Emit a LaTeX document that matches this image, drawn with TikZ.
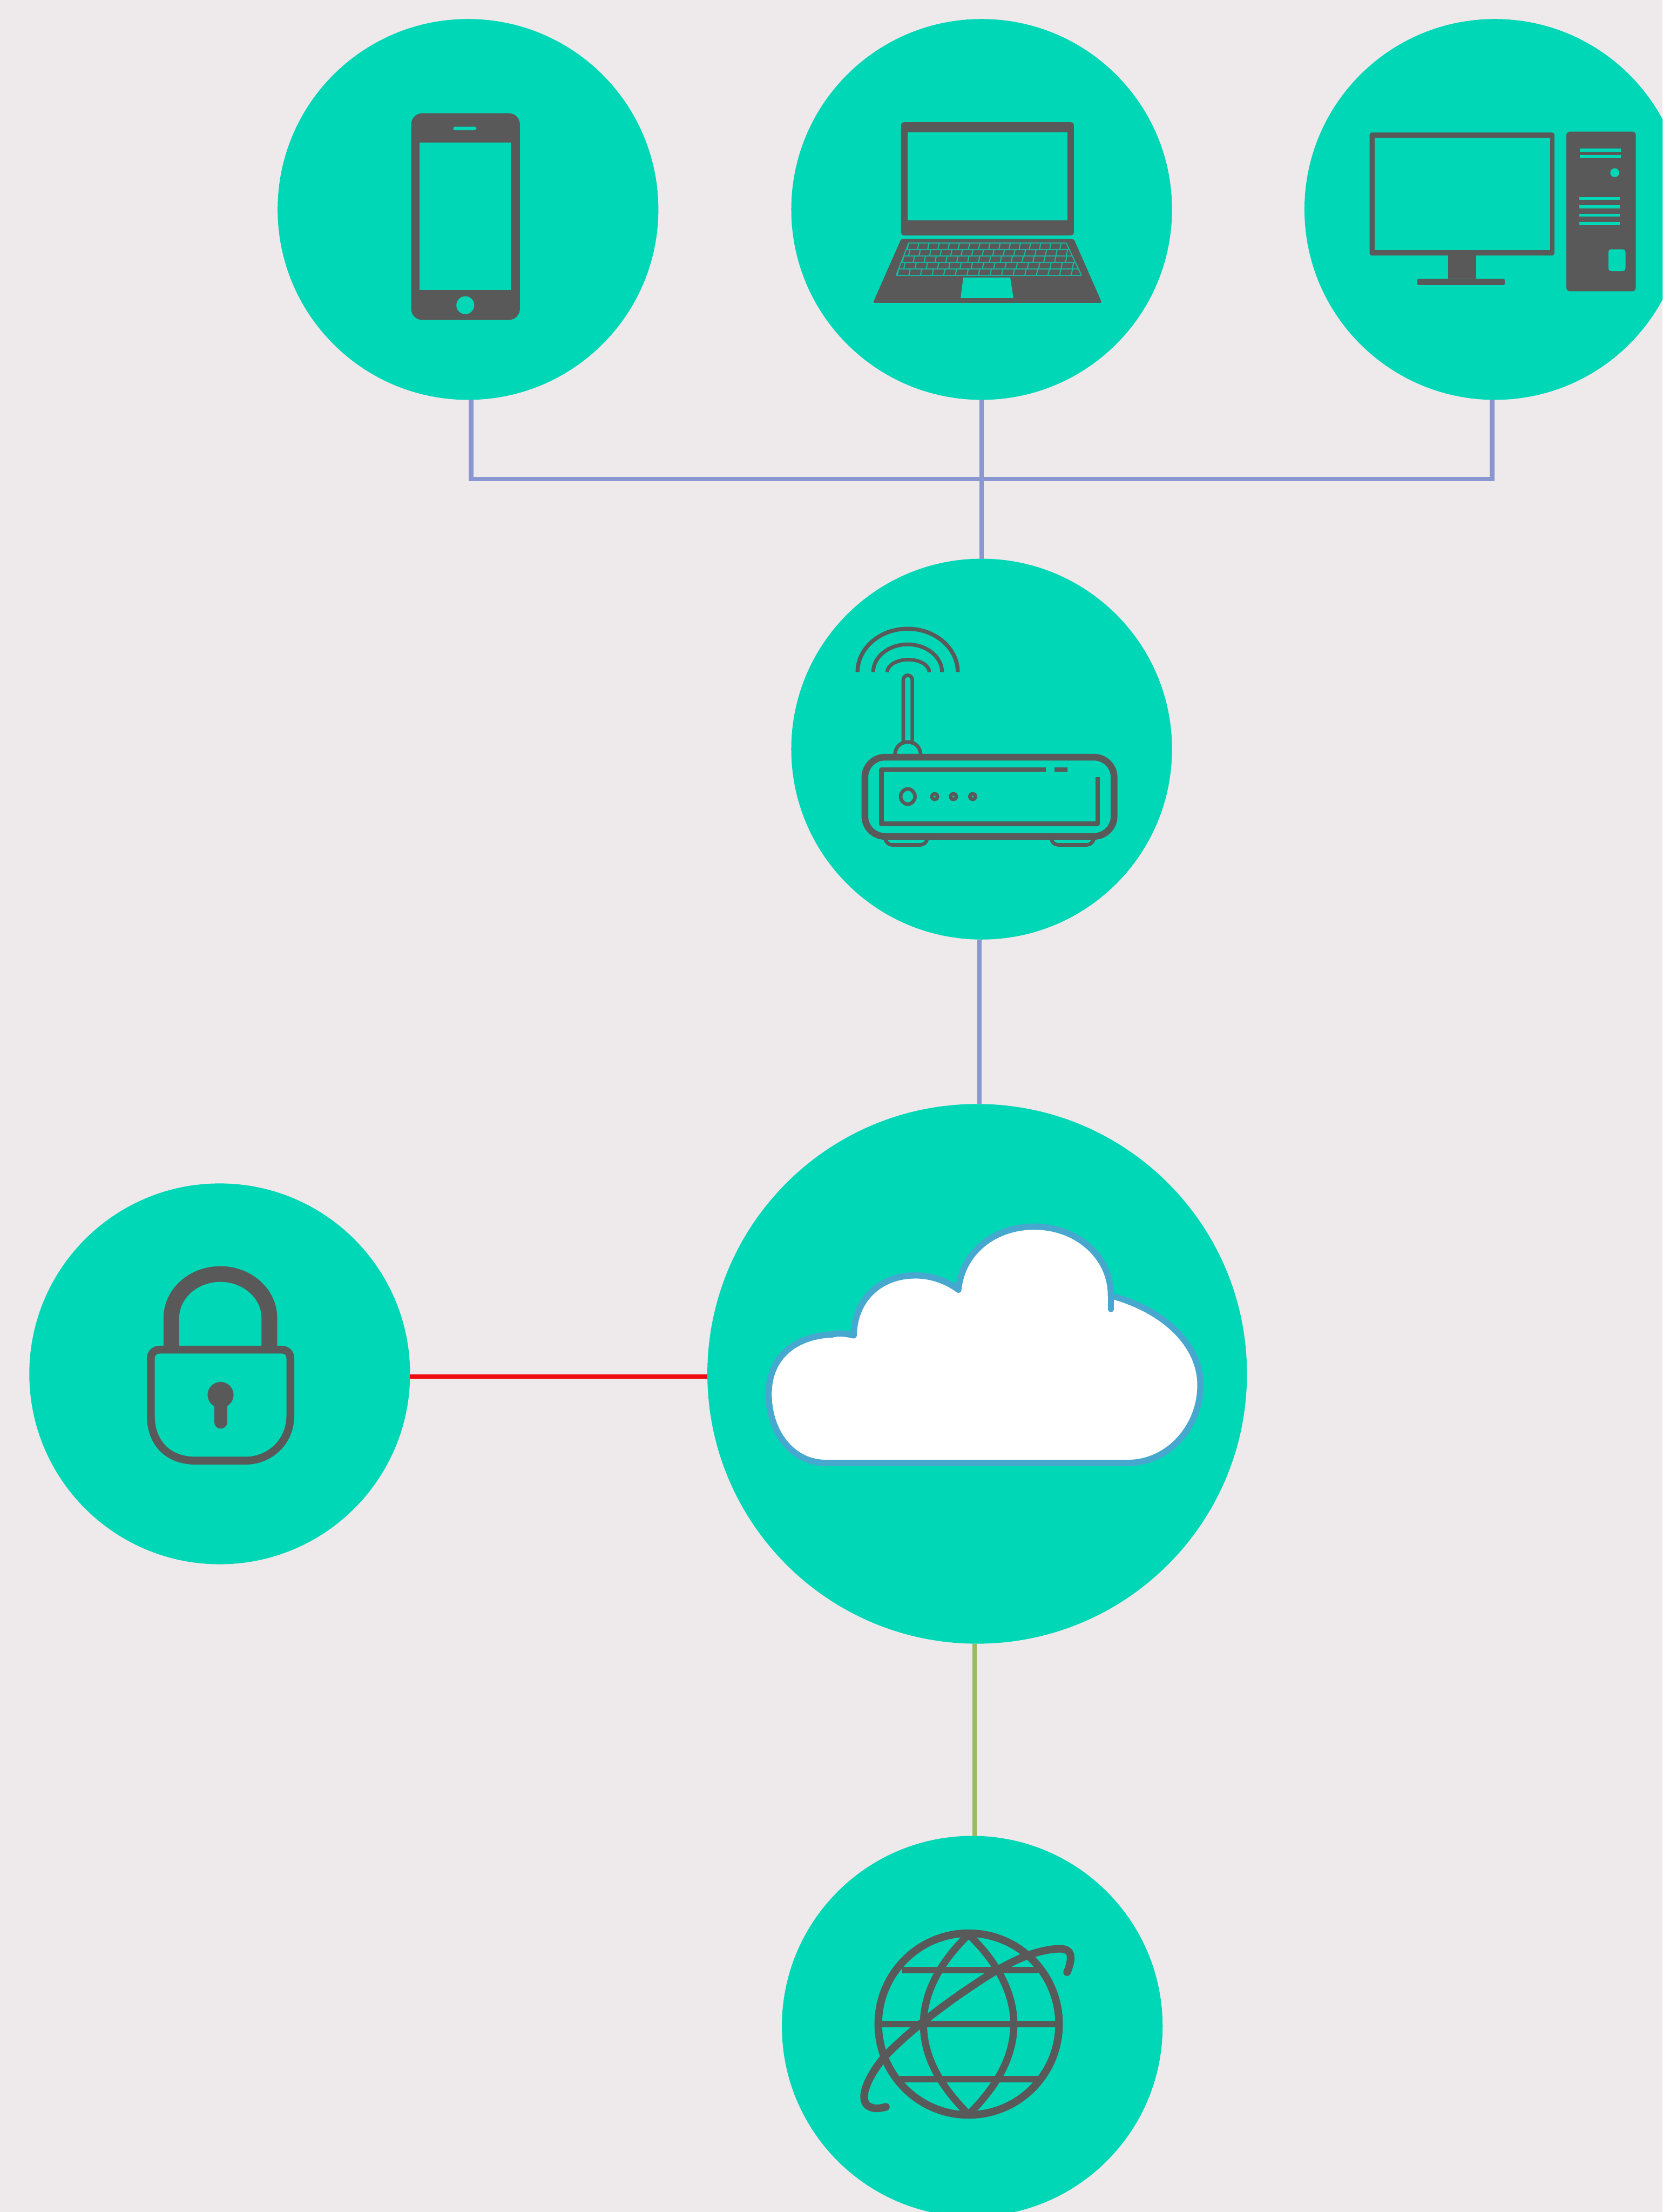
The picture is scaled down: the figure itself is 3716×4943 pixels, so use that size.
\documentclass[tikz,border=0pt]{standalone}
\definecolor{bgc}{HTML}{EEEAEB}
\definecolor{tealc}{HTML}{00D7B6}
\definecolor{grayc}{HTML}{595959}
\definecolor{bluec}{HTML}{8A96CF}
\definecolor{redc}{HTML}{EE0A0E}
\definecolor{greenc}{HTML}{97BC60}
\definecolor{cloudc}{HTML}{47A8CF}
\tikzset{
  disc/.style={circle,fill=tealc,draw=none,inner sep=0pt,outer sep=0pt,minimum size=85.1mm},
  bigdisc/.style={disc,minimum size=120.6mm},
  wire/.style={line width=1mm},
  solidicon/.style={fill=grayc,draw=none},
  hole/.style={fill=tealc,draw=none},
  keyline/.style={draw=tealc!75!grayc,line width=0.25mm},
  outline/.style={draw=grayc,line cap=round,line join=round},
}
\begin{document}
\begin{tikzpicture}[x=0.1mm,y=-0.1mm]
\useasboundingbox (0,0) rectangle (3716,4943);
\clip (0,0) rectangle (3716,4943);
\fill[bgc] (0,0) rectangle (3716,4943);
% discs
\node[disc] (phone) at (1046,468) {};
\node[disc] (laptop) at (2194,468) {};
\node[disc] (desktop) at (3341,468) {};
\node[disc] (router) at (2194,1674) {};
\node[bigdisc] (cloud) at (2184,3070) {};
\node[disc] (lock) at (491,3070) {};
\node[disc] (globe) at (2173,4528) {};
% connectors
\coordinate (busL) at (1053,1070);
\coordinate (busR) at (3335,1070);
\coordinate (rc) at (2189,2280);
\coordinate (cg) at (2178,3900);
\coordinate (lc) at (1250,3076);
\draw[wire,bluec] (busL |- phone.south) -- (busL) -- (busR) -- (busR |- desktop.south);
\draw[wire,bluec] (laptop.south) -- (router.north);
\draw[wire,bluec] (rc |- router.south) -- (rc |- cloud.north);
\draw[wire,redc] (lock.east |- lc) -- (cloud.west |- lc);
\draw[wire,greenc] (cg |- cloud.south) -- (cg |- globe.north);
% phone icon
\fill[solidicon,rounded corners=2.5mm] (919,253) rectangle (1162,715);
\fill[hole] (938,318) rectangle (1142,648);
\fill[hole,rounded corners=0.4mm] (1013,283) rectangle (1065,291);
\fill[hole] (1040,682) circle (20);
% laptop icon
\fill[solidicon,rounded corners=0.6mm] (2014,273) rectangle (2400,526);
\fill[hole] (2028,296) rectangle (2386,492);
\fill[solidicon,rounded corners=0.4mm] (2014,534) -- (2400,534) -- (2463,677) -- (1951,677) -- cycle;
\foreach \r in {0,1,2,3,4,5}{
  \pgfmathsetmacro{\yy}{543+14.4*\r}
  \pgfmathsetmacro{\xa}{2031-5.6*\r}
  \pgfmathsetmacro{\xb}{2383+6.8*\r}
  \draw[keyline] (\xa,\yy) -- (\xb,\yy);
}
\foreach \r in {0,1,2,3,4}{
  \pgfmathsetmacro{\yy}{543+14.4*\r}
  \pgfmathsetmacro{\yz}{\yy+14.4}
  \pgfmathsetmacro{\xa}{2031-5.6*\r}
  \pgfmathsetmacro{\wd}{352+12.4*\r}
  \foreach \c in {0,...,15}{
    \pgfmathsetmacro{\off}{mod(\r,2)*0.35}
    \pgfmathsetmacro{\xt}{\xa+\wd*(\c+\off)/15.5}
    \pgfmathsetmacro{\xu}{\xt-3}
    \draw[keyline] (\xt,\yy) -- (\xu,\yz);
  }
  \draw[keyline] (\xa,\yy) -- (\xa-5.6,\yz);
  \draw[keyline] (\xa+\wd,\yy) -- (\xa+\wd+6.8,\yz);
}
\fill[hole] (2153,620) -- (2258,620) -- (2265,666) -- (2147,666) -- cycle;
% desktop icon
\fill[solidicon,rounded corners=0.5mm] (3061,296) rectangle (3474,571);
\fill[hole] (3073,308) rectangle (3465,559);
\fill[solidicon] (3236,571) rectangle (3299,623);
\fill[solidicon,rounded corners=0.2mm] (3168,623) rectangle (3363,637);
\fill[solidicon,rounded corners=0.8mm] (3501,294) rectangle (3656,651);
\foreach \a/\b in {332/339,346/353}{\fill[hole] (3531,\a) rectangle (3623,\b);}
\foreach \a/\b in {441/447,459/466,478/484,496/503}{\fill[hole] (3530,\a) rectangle (3620,\b);}
\fill[hole] (3609,386) circle (10);
\fill[hole,rounded corners=0.6mm] (3595,557) rectangle (3633,606);
% router icon
\draw[outline,line width=0.9mm,line cap=butt] (1916.6,1502) arc[start angle=180,end angle=360,x radius=112,y radius=97];
\draw[outline,line width=0.85mm,line cap=butt] (1951.6,1502) arc[start angle=180,end angle=360,x radius=77,y radius=62];
\draw[outline,line width=0.8mm,line cap=butt] (1983,1502) arc[start angle=180,end angle=360,x radius=47,y radius=28];
\draw[outline,line width=0.8mm,rounded corners=1mm] (2019,1660) -- (2019,1509) -- (2039,1509) -- (2039,1660);
\draw[outline,line width=0.8mm] (2000,1690) .. controls (2000,1670) and (2012,1658) .. (2029,1658) .. controls (2046,1658) and (2058,1670) .. (2058,1690);
\draw[outline,line width=1.5mm,rounded corners=4.5mm] (1933,1692) rectangle (2490,1869);
\draw[outline,line width=1mm,line cap=butt] (2337,1720) -- (1970,1720) -- (1970,1841) -- (2453,1841) -- (2453,1737);
\draw[outline,line width=1mm,line cap=butt] (2357,1720) -- (2386,1720);
\draw[outline,line width=0.8mm] (2029,1780) circle[x radius=16,y radius=17];
\foreach \x in {2089,2131,2174}{\draw[outline,line width=0.8mm] (\x,1780) circle (6.5);}
\draw[outline,line width=0.8mm,rounded corners=1.2mm] (1979,1876) -- (1982,1888) -- (2069,1888) -- (2072,1876);
\draw[outline,line width=0.8mm,rounded corners=1.2mm] (2350,1876) -- (2353,1888) -- (2441,1888) -- (2444,1876);
% cloud icon
\draw[draw=cloudc,fill=white,line width=1.4mm,line join=round]
  (1846,3269) -- (2521,3269)
  .. controls (2610,3269) and (2683,3190) .. (2683,3095)
  .. controls (2683,3010) and (2610,2930) .. (2483,2895)
  .. controls (2483,2806) and (2405,2741) .. (2312,2741)
  .. controls (2220,2741) and (2150,2800) .. (2142,2882)
  .. controls (2120,2865) and (2085,2850) .. (2046,2850)
  .. controls (1970,2850) and (1910,2900) .. (1908,2984)
  .. controls (1890,2980) and (1875,2978) .. (1860,2982)
  .. controls (1780,2985) and (1718,3030) .. (1718,3115)
  .. controls (1718,3200) and (1770,3269) .. (1846,3269) -- cycle;
\draw[draw=cloudc,line width=1.4mm,line cap=round] (2483,2895) -- (2483,2925);
% lock icon
\draw[outline,line width=3.5mm,line cap=butt] (383,3012) -- (383,2945) arc[start angle=180,end angle=360,x radius=109.5,y radius=98] -- (602,3012);
\draw[outline,line width=1.75mm]
  (357,3016) -- (629,3016) .. controls (642,3016) and (649,3024) .. (649,3036)
  -- (649,3163) .. controls (649,3225) and (600,3264) .. (549,3264)
  -- (437,3264) .. controls (376,3264) and (337,3225) .. (337,3163)
  -- (337,3036) .. controls (337,3024) and (345,3016) .. (357,3016) -- cycle;
\fill[solidicon] (493,3117) circle (29);
\draw[outline,line width=2.9mm] (493,3125) -- (493,3178);
% globe icon
\draw[outline,line width=1.7mm] (2165,4523) circle[x radius=202,y radius=203];
\draw[outline,line width=1.6mm]
  (2165,4323) .. controls (2095,4390) and (2064,4460) .. (2064,4523)
  .. controls (2064,4590) and (2095,4655) .. (2165,4725)
  .. controls (2235,4655) and (2266,4590) .. (2266,4523)
  .. controls (2266,4460) and (2235,4390) .. (2165,4323) -- cycle;
\draw[outline,line width=1.5mm,line cap=butt] (2016,4402) -- (2319,4402);
\draw[outline,line width=1.5mm,line cap=butt] (1962,4523) -- (2367,4523);
\draw[outline,line width=1.5mm,line cap=butt] (2012,4646) -- (2323,4646);
\draw[outline,line width=1.7mm]
  (2385,4407) .. controls (2400,4370) and (2395,4352) .. (2362,4355)
  .. controls (2320,4358) and (2270,4375) .. (2200,4420)
  .. controls (2130,4465) and (2040,4530) .. (1976,4597)
  .. controls (1940,4640) and (1915,4695) .. (1944,4708)
  .. controls (1955,4713) and (1965,4712) .. (1980,4708);
\end{tikzpicture}
\end{document}
